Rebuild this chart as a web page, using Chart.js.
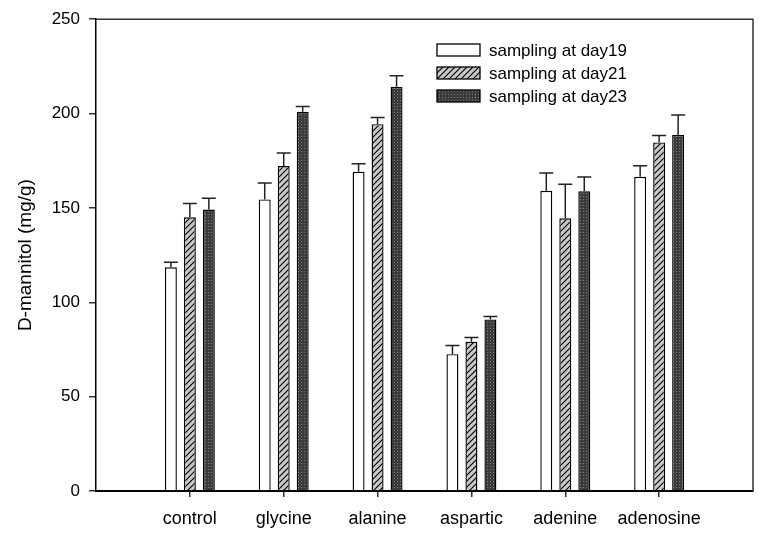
<!DOCTYPE html>
<html>
<head>
<meta charset="utf-8">
<script src="https://cdn.jsdelivr.net/npm/chart.js@4.4.0/dist/chart.umd.min.js"></script>
<style>
  html, body { margin: 0; padding: 0; background: #fff; }
  #wrap { width: 759px; height: 535px; }
</style>
</head>
<body>
<div id="wrap"><canvas id="chart"></canvas></div>
<script>
const categories = ['control', 'glycine', 'alanine', 'aspartic', 'adenine', 'adenosine'];
const seriesNames = ['sampling at day19', 'sampling at day21', 'sampling at day23'];
const day19 = [118.5, 154.5, 169.2, 72.5, 159.1, 166.5];
const day19Err = [2.7, 8.7, 4.2, 4.6, 9.4, 5.9];
const day21 = [145.0, 172.2, 194.4, 79.1, 144.5, 184.7];
const day21Err = [7.4, 6.9, 3.5, 2.2, 18.0, 3.7];
const day23 = [149.1, 200.9, 214.2, 90.9, 158.8, 188.6];
const day23Err = [6.0, 2.9, 5.8, 1.6, 7.6, 10.7];
const yTicks = [0, 50, 100, 150, 200, 250];

const FONT = '"Liberation Sans", Arial, sans-serif';

// fill patterns
function hatchPattern() {
  const c = document.createElement('canvas');
  c.width = 6; c.height = 6;
  const g = c.getContext('2d');
  g.fillStyle = '#c8c8c8';
  g.fillRect(0, 0, 6, 6);
  g.strokeStyle = '#000';
  g.lineWidth = 1.1;
  g.beginPath();
  g.moveTo(-1, 7); g.lineTo(7, -1);
  g.moveTo(-4, 4); g.lineTo(4, -4);
  g.moveTo(2, 10); g.lineTo(10, 2);
  g.stroke();
  return g.createPattern(c, 'repeat');
}
function dotPattern() {
  const c = document.createElement('canvas');
  c.width = 3; c.height = 3;
  const g = c.getContext('2d');
  g.fillStyle = '#3c3c3c';
  g.fillRect(0, 0, 3, 3);
  g.fillStyle = '#7a7a7a';
  g.fillRect(1, 1, 1, 1);
  return g.createPattern(c, 'repeat');
}
const fills = ['#ffffff', hatchPattern(), dotPattern()];

const toPoints = vals => vals.map((v, i) => ({ x: i + 1, y: v }));
const errs = [day19Err, day21Err, day23Err];

const errorBars = {
  id: 'errorBars',
  afterDatasetsDraw(chart) {
    const ctx = chart.ctx;
    const y = chart.scales.y;
    ctx.save();
    ctx.strokeStyle = '#222';
    ctx.lineWidth = 1.5;
    chart.data.datasets.forEach((ds, di) => {
      chart.getDatasetMeta(di).data.forEach((bar, i) => {
        const top = y.getPixelForValue(ds.data[i].y + errs[di][i]);
        ctx.beginPath();
        ctx.moveTo(bar.x, bar.y);
        ctx.lineTo(bar.x, top);
        ctx.moveTo(bar.x - 7, top);
        ctx.lineTo(bar.x + 7, top);
        ctx.stroke();
      });
    });
    ctx.restore();
  }
};

const frameAndLegend = {
  id: 'frameAndLegend',
  afterDraw(chart) {
    const ctx = chart.ctx;
    const a = chart.chartArea;
    ctx.save();
    ctx.strokeStyle = '#333';
    ctx.lineWidth = 1.5;
    ctx.beginPath();
    ctx.moveTo(a.left, a.top);
    ctx.lineTo(a.right, a.top);
    ctx.lineTo(a.right, a.bottom);
    ctx.stroke();

    ctx.font = '17px ' + FONT;
    ctx.textBaseline = 'middle';
    ctx.fillStyle = '#000';
    seriesNames.forEach((name, i) => {
      const cy = 50 + i * 23;
      ctx.fillStyle = fills[i];
      ctx.fillRect(437, cy - 6, 43, 12);
      ctx.strokeStyle = '#000';
      ctx.lineWidth = 1.3;
      ctx.strokeRect(437, cy - 6, 43, 12);
      ctx.fillStyle = '#000';
      ctx.fillText(name, 489, cy + 1);
    });
    ctx.restore();
  }
};

new Chart(document.getElementById('chart'), {
  type: 'bar',
  data: {
    datasets: [day19, day21, day23].map((vals, i) => ({
      label: seriesNames[i],
      data: toPoints(vals),
      backgroundColor: fills[i],
      borderColor: '#000',
      borderWidth: 1.4,
      categoryPercentage: 0.607,
      barPercentage: 0.63
    }))
  },
  options: {
    responsive: true,
    maintainAspectRatio: false,
    animation: false,
    layout: { padding: { top: 18, right: 6, left: 0, bottom: 0 } },
    plugins: { legend: { display: false }, tooltip: { enabled: false } },
    scales: {
      x: {
        type: 'linear',
        min: 0,
        max: 7,
        offset: false,
        afterBuildTicks: s => { s.ticks = categories.map((c, i) => ({ value: i + 1 })); },
        afterFit: s => { s.height = 44; },
        ticks: {
          callback: v => categories[v - 1] || '',
          color: '#000',
          font: { family: FONT, size: 18 },
          padding: 11,
          maxRotation: 0,
          autoSkip: false
        },
        grid: { offset: false, drawOnChartArea: false, tickLength: 6, color: '#333', lineWidth: 1.5 },
        border: { color: '#000', width: 2 }
      },
      y: {
        min: 0,
        max: 250,
        afterBuildTicks: s => { s.ticks = yTicks.map(v => ({ value: v })); },
        afterFit: s => { s.width = 96; },
        ticks: {
          color: '#000',
          font: { family: FONT, size: 17 },
          padding: 9
        },
        grid: { drawOnChartArea: false, tickLength: 7, color: '#333', lineWidth: 1.5 },
        border: { color: '#000', width: 1.5 },
        title: {
          display: true,
          text: 'D-mannitol (mg/g)',
          color: '#000',
          font: { family: FONT, size: 19 },
          padding: { top: 14, bottom: 0 }
        }
      }
    }
  },
  plugins: [errorBars, frameAndLegend]
});
</script>
</body>
</html>
